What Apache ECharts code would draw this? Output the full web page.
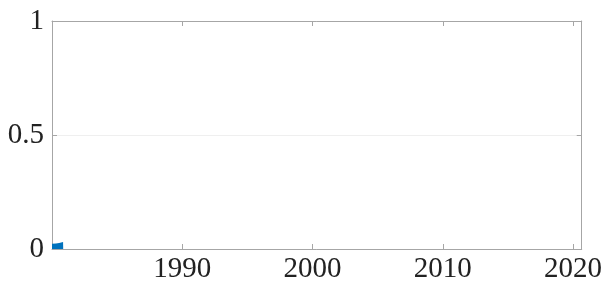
<!DOCTYPE html>
<html>
<head>
<meta charset="utf-8">
<script src="https://cdn.jsdelivr.net/npm/echarts@6/dist/echarts.min.js"></script>
<style>
  html, body { margin: 0; padding: 0; background: #fff; }
  #chart { width: 605px; height: 284px; }
</style>
</head>
<body>
<div id="chart"></div>
<script>
// data
var years = [1980, 1980.3, 1980.55, 1980.6, 1980.85, 1980.86];
var values = [0.023, 0.024, 0.026, 0.031, 0.031, 0];
var xTicks = [1990, 2000, 2010, 2020];
var yTicks = [0, 0.5, 1];

var font = "Liberation Serif";
var boxColor = "#a6a6a6";

var seriesData = years.map(function(y, i) {
  return [y, values[i]];
});

function axisCommon(pos, showLabel) {
  return {
    position: pos,
    z: 5,
    axisLine: { show: true, onZero: false, lineStyle: { color: boxColor, width: 1 } },
    axisTick: { show: true, inside: true, length: 5, lineStyle: { color: boxColor } },
    axisLabel: {
      show: showLabel,
      fontFamily: font,
      fontSize: 29,
      color: "#222",
      showMinLabel: pos == "left",
      showMaxLabel: pos == "left"
    },
    splitLine: { show: false }
  };
}

var xBottom = axisCommon("bottom", true);
xBottom.type = "value";
xBottom.min = 1980;
xBottom.max = 2020.67;
xBottom.interval = 10;
xBottom.axisLabel.margin = 6;
xBottom.axisLabel.formatter = function(v) {
  return xTicks.indexOf(v) >= 0 ? String(v) : "";
};

var xTop = axisCommon("top", false);
xTop.type = "value";
xTop.min = 1980;
xTop.max = 2020.67;
xTop.interval = 10;

var yLeft = axisCommon("left", true);
yLeft.type = "value";
yLeft.z = 0;
yLeft.min = 0;
yLeft.max = 1;
yLeft.interval = 0.5;
yLeft.axisLabel.margin = 8;
yLeft.axisLabel.formatter = function(v) {
  return yTicks.indexOf(v) >= 0 ? String(v) : "";
};
yLeft.splitLine = { show: true, lineStyle: { color: "#efefef", width: 1 } };

var yRight = axisCommon("right", false);
yRight.type = "value";
yRight.min = 0;
yRight.max = 1;
yRight.interval = 0.5;

var chart = echarts.init(document.getElementById("chart"));
chart.setOption({
  animation: false,
  grid: { left: 52, top: 21, right: 22, bottom: 35, show: false },
  xAxis: [xBottom, xTop],
  yAxis: [yLeft, yRight],
  series: [
    {
      type: "line",
      data: seriesData,
      symbol: "none",
      z: 3,
      lineStyle: { width: 0 },
      areaStyle: { color: "#0072BD", opacity: 1 },
      xAxisIndex: 0,
      yAxisIndex: 0
    }
  ]
});
</script>
</body>
</html>
